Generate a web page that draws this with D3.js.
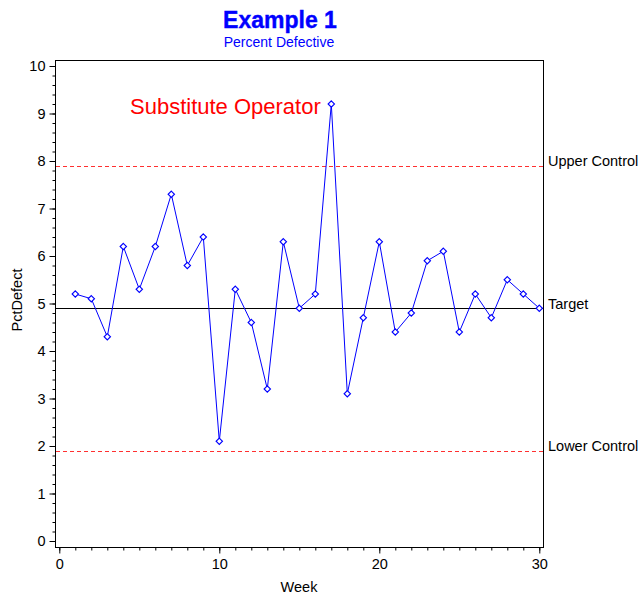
<!DOCTYPE html>
<meta charset="utf-8">
<style>
body { margin: 0; background: #fff; }
text { font-family: "Liberation Sans", Arial, sans-serif; }
</style>
<body>
<script src="https://d3js.org/d3.v7.min.js"></script>
<script>

// weekly percent defective
var weeks = d3.range(1, 31);
var pctDefect = [5.2, 5.1, 4.3, 6.2, 5.3, 6.2, 7.3, 5.8, 6.4, 2.1,
                 5.3, 4.6, 3.2, 6.3, 4.9, 5.2, 9.2, 3.1, 4.7, 6.3,
                 4.4, 4.8, 5.9, 6.1, 4.4, 5.2, 4.7, 5.5, 5.2, 4.9];

var refLines = [
  {name: "Upper Control", value: 7.9, dash: true},
  {name: "Target", value: 4.9, dash: false},
  {name: "Lower Control", value: 1.9, dash: true}
];

var xTicks = [0, 10, 20, 30],
    yTicks = [0, 1, 2, 3, 4, 5, 6, 7, 8, 9, 10];

var width = 639, height = 595;
var frame = {left: 55, right: 543, top: 60, bottom: 547};

var x = d3.scaleLinear().domain([0, 30]).range([59.3, 539.3]);
var y = d3.scaleLinear().domain([0, 10]).range([541, 66]);

var svg = d3.select("body").append("svg")
    .attr("width", width)
    .attr("height", height);

// titles
svg.append("text")
    .attr("x", 280).attr("y", 28)
    .attr("text-anchor", "middle")
    .attr("font-size", 23).attr("font-weight", "bold")
    .attr("fill", "#0000ff")
    .attr("stroke", "#0000ff").attr("stroke-width", 0.4)
    .text("Example 1");

svg.append("text")
    .attr("x", 279).attr("y", 47)
    .attr("text-anchor", "middle")
    .attr("font-size", 14)
    .attr("fill", "#0000ff")
    .text("Percent Defective");

// frame
svg.append("rect")
    .attr("x", frame.left + 0.5).attr("y", frame.top + 0.5)
    .attr("width", frame.right - frame.left).attr("height", frame.bottom - frame.top)
    .attr("fill", "none").attr("stroke", "#000");

// y axis: major + minor ticks
var gy = svg.append("g")
    .attr("transform", "translate(" + (frame.left + 0.5) + ",0)");
gy.call(d3.axisLeft(y).tickValues(d3.range(0, 10.01, 0.2)).tickSize(3).tickFormat(""))
  .call(function(g) { g.select(".domain").remove(); });
gy.append("g")
  .call(d3.axisLeft(y).tickValues(yTicks).tickSize(6).tickPadding(4))
  .call(function(g) {
    g.select(".domain").remove();
    g.selectAll("text").attr("font-size", 14.5).attr("fill", "#000")
      .style("font-family", "Liberation Sans, Arial, sans-serif");
  });

// x axis
var gx = svg.append("g")
    .attr("transform", "translate(0," + (frame.bottom + 0.5) + ")");
gx.call(d3.axisBottom(x).tickValues(d3.range(0, 31)).tickSize(3).tickFormat(""))
  .call(function(g) { g.select(".domain").remove(); });
gx.append("g")
  .call(d3.axisBottom(x).tickValues(xTicks).tickSize(6).tickPadding(5))
  .call(function(g) {
    g.select(".domain").remove();
    g.selectAll("text").attr("font-size", 14.5).attr("fill", "#000")
      .style("font-family", "Liberation Sans, Arial, sans-serif");
  });

svg.append("text")
    .attr("x", 299).attr("y", 592)
    .attr("text-anchor", "middle")
    .attr("font-size", 14.5)
    .text("Week");

svg.append("text")
    .attr("transform", "translate(22,300) rotate(-90)")
    .attr("text-anchor", "middle")
    .attr("font-size", 14.5)
    .text("PctDefect");

// reference lines
svg.selectAll(".ref")
  .data(refLines)
  .enter().append("line")
    .attr("class", "ref")
    .attr("x1", frame.left + 1).attr("x2", frame.right)
    .attr("y1", function(d) { return Math.round(y(d.value)) + 0.5; })
    .attr("y2", function(d) { return Math.round(y(d.value)) + 0.5; })
    .attr("stroke", function(d) { return d.dash ? "#ff3030" : "#000"; })
    .attr("stroke-dasharray", function(d) { return d.dash ? "4,3" : null; })
    .attr("stroke-width", 1);

svg.selectAll(".refLabel")
  .data(refLines)
  .enter().append("text")
    .attr("class", "refLabel")
    .attr("x", frame.right + 5)
    .attr("y", function(d) { return y(d.value) + 0.5; })
    .attr("font-size", 14.5)
    .text(function(d) { return d.name; });

// series
var line = d3.line()
    .x(function(d, i) { return x(weeks[i]); })
    .y(function(d) { return y(d); });

svg.append("path")
    .datum(pctDefect)
    .attr("d", line)
    .attr("fill", "none")
    .attr("stroke", "#0000ff")
    .attr("stroke-width", 1);

svg.selectAll(".pt")
  .data(pctDefect)
  .enter().append("path")
    .attr("class", "pt")
    .attr("transform", function(d, i) { return "translate(" + x(weeks[i]) + "," + y(d) + ")"; })
    .attr("d", "M0,-3.2L3.2,0L0,3.2L-3.2,0Z")
    .attr("fill", "#fff")
    .attr("stroke", "#0000ff")
    .attr("stroke-width", 1.1);

// annotation
svg.append("text")
    .attr("x", 130).attr("y", 114)
    .attr("font-size", 22)
    .attr("fill", "#ff0000")
    .text("Substitute Operator");

</script>
